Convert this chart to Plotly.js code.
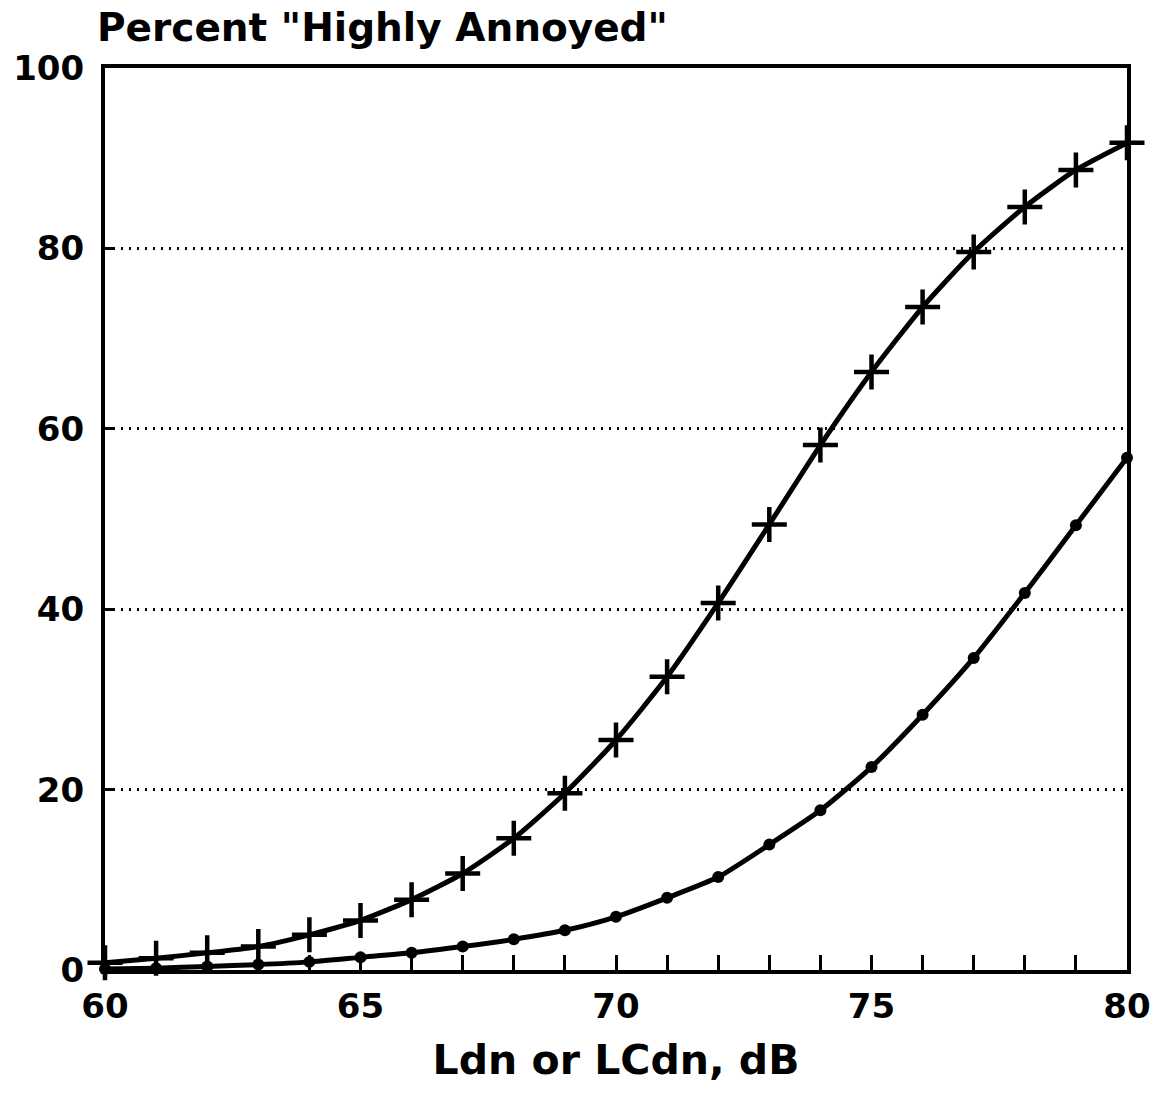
<!DOCTYPE html>
<html>
<head>
<meta charset="utf-8">
<script src="https://cdn.plot.ly/plotly-3.0.1.min.js"></script>
<style>
  html, body { margin: 0; padding: 0; background: #fff; }
  #chart { width: 1158px; height: 1102px; }
</style>
</head>
<body>
<div id="chart"></div>
<script>
// Sound level (dB)
const levels = [60,61,62,63,64,65,66,67,68,69,70,71,72,73,74,75,76,77,78,79,80];
// Percent highly annoyed - upper curve (+ markers)
const crossSeries = [0.8,1.3,1.9,2.6,3.9,5.5,7.8,10.7,14.6,19.6,25.5,32.5,40.7,49.4,58.2,66.3,73.5,79.6,84.6,88.7,91.7];
// Percent highly annoyed - lower curve (dot markers)
const dotSeries = [0.1,0.2,0.4,0.6,0.9,1.4,1.9,2.6,3.4,4.4,5.9,8.0,10.3,13.9,17.7,22.5,28.3,34.6,41.8,49.3,56.8];
const xTickVals = [60,65,70,75,80];
const yTickVals = [0,20,40,60,80,100];

const FONT = '"DejaVu Sans", "Liberation Sans", Arial, sans-serif';

const traces = [
  {
    x: levels, y: crossSeries, type: 'scatter', mode: 'lines+markers',
    line: {color: '#000', width: 5, shape: 'spline', smoothing: 0.6},
    marker: {symbol: 'cross-thin', size: 25, color: '#000', line: {color: '#000', width: 4.5}},
    cliponaxis: false, showlegend: false, hoverinfo: 'x+y'
  },
  {
    x: levels, y: dotSeries, type: 'scatter', mode: 'lines+markers',
    line: {color: '#000', width: 5, shape: 'spline', smoothing: 0.6},
    marker: {symbol: 'circle', size: 12, color: '#000'},
    cliponaxis: false, showlegend: false, hoverinfo: 'x+y'
  }
];

const layout = {
  width: 1158, height: 1102,
  paper_bgcolor: '#fff', plot_bgcolor: '#fff',
  margin: {l: 105, r: 31, t: 68, b: 132},
  font: {family: FONT, color: '#000'},
  title: {
    text: '<b>Percent "Highly Annoyed"</b>',
    font: {family: FONT, size: 39, color: '#000'},
    xref: 'container', yref: 'container',
    x: 97/1158, xanchor: 'left',
    y: 1 - 14/1102, yanchor: 'top'
  },
  xaxis: {
    range: [60, 80],
    tickmode: 'array', tickvals: levels,
    ticktext: levels.map(v => xTickVals.includes(v) ? '<b>' + v + '</b>' : ''),
    ticks: 'inside', ticklen: 15, tickwidth: 3, tickcolor: '#000',
    tickfont: {family: FONT, size: 34, color: '#000'},
    ticklabelstandoff: 3,
    showline: true, linecolor: '#000', linewidth: 4, mirror: true,
    showgrid: false, zeroline: false,
    title: {text: '<b>Ldn or LCdn, dB</b>', font: {family: FONT, size: 41, color: '#000'}, standoff: 22}
  },
  yaxis: {
    range: [0, 100],
    tickmode: 'array', tickvals: yTickVals,
    ticktext: yTickVals.map(v => '<b>' + v + '</b>'),
    ticks: 'inside', ticklen: 10, tickwidth: 3, tickcolor: '#000',
    tickfont: {family: FONT, size: 34, color: '#000'},
    ticklabelstandoff: 10,
    showline: true, linecolor: '#000', linewidth: 4, mirror: true,
    showgrid: true, gridcolor: '#000', gridwidth: 3, griddash: '2px,6px',
    zeroline: false
  }
};

Plotly.newPlot('chart', traces, layout, {displayModeBar: false, staticPlot: true});
</script>
</body>
</html>
